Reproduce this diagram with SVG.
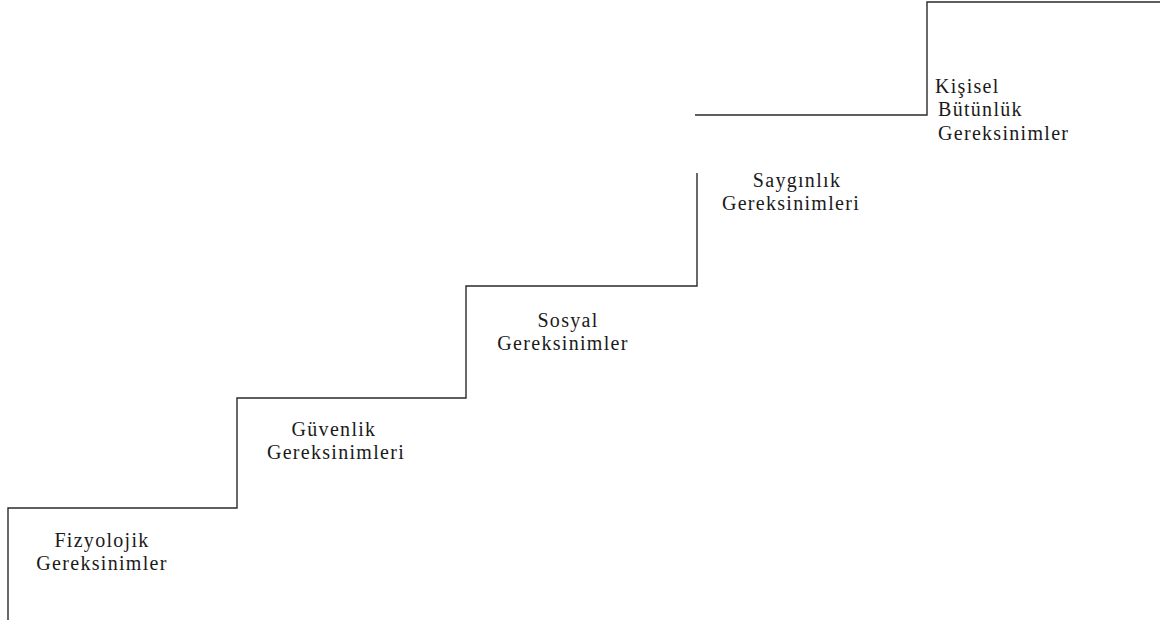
<svg xmlns="http://www.w3.org/2000/svg" width="1160" height="625" viewBox="0 0 1160 625">
  <style>
    .step { fill: none; stroke: #2a2a2a; stroke-width: 1.4; }
    .lbl { font-family: "Liberation Serif", "Times New Roman", serif; font-size: 20px; letter-spacing: 1.3px; fill: #1a1a1a; }
    .c { text-anchor: middle; }
  </style>
  <rect width="1160" height="625" fill="#ffffff"/>
  <!-- staircase outline -->
  <g id="connectors">
    <polyline class="step" points="8,620 8,508 237,508 237,398 466,398 466,286 697,286 697,173"/>
    <polyline class="step" points="695,115 927,115 927,2 1160,2"/>
  </g>
  <g id="fizyolojik">
    <text class="lbl c" x="102" y="547">Fizyolojik</text>
    <text class="lbl c" x="102" y="570">Gereksinimler</text>
  </g>
  <g id="guvenlik">
    <text class="lbl c" x="334" y="436">Güvenlik</text>
    <text class="lbl c" x="336" y="459">Gereksinimleri</text>
  </g>
  <g id="sosyal">
    <text class="lbl c" x="568" y="327">Sosyal</text>
    <text class="lbl c" x="563" y="350">Gereksinimler</text>
  </g>
  <g id="saygınlık">
    <text class="lbl c" x="797" y="187">Saygınlık</text>
    <text class="lbl c" x="791" y="210">Gereksinimleri</text>
  </g>
  <g id="kisisel">
    <text class="lbl" x="935" y="93">Kişisel</text>
    <text class="lbl" x="938" y="116">Bütünlük</text>
    <text class="lbl" x="938" y="140">Gereksinimler</text>
  </g>
</svg>
